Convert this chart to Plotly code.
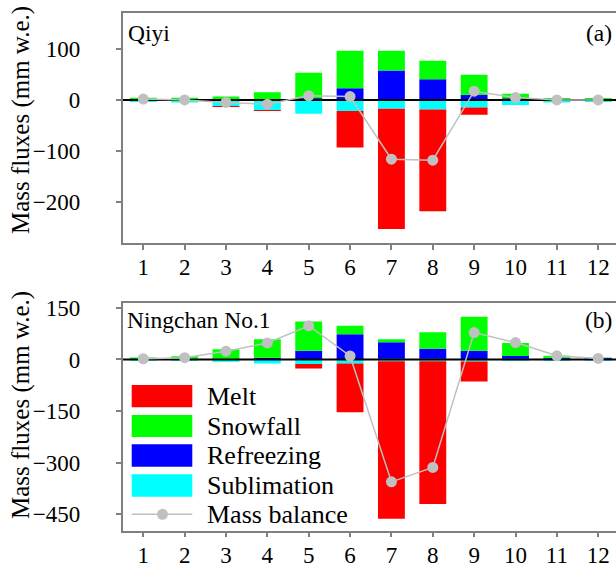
import plotly.graph_objects as go
from plotly.subplots import make_subplots

MONTHS = list(range(1, 13))
MONTH_LABELS = [str(m) for m in MONTHS]

# Panel (a) Qiyi
QIYI_MELT = [0, 0, -1, -1, 0, -71.5, -235, -199, -14, 0, 0, 0]
QIYI_SNOW = [3, 3, 6, 14, 50, 73, 38.5, 36, 39, 9.5, 3, 2.5]
QIYI_REFR = [1, 1, 0.5, 1, 3, 23, 57.5, 40.5, 10, 2.5, 0.5, 0.5]
QIYI_SUBL = [-4, -5, -12, -20.5, -27, -21.5, -17.5, -19, -15, -10, -5, -4]
QIYI_MB = [1.5, 0, -5, -8.5, 8, 6.5, -116, -118, 17, 4.5, 0, 0]

# Panel (b) Ningchan No.1
NC_MELT = [0, 0, 0, 0, -12.5, -142, -458, -415, -58, 0, 0, 0]
NC_SNOW = [4, 7, 29, 54, 85, 24.5, 9, 48, 99, 38, 6, 0]
NC_REFR = [2, 2, 1, 5, 25, 73.5, 50, 31, 25, 10, 5, 4]
NC_SUBL = [-2, -3, -7, -12, -13.5, -11.5, -5, -5, -6, -3, -2, -2]
NC_MB = [2, 5, 24, 48, 98, 10, -356, -314, 78, 49, 10.5, 3]

SERIES_NAMES = ["Melt", "Snowfall", "Refreezing", "Sublimation", "Mass balance"]
COLORS = {"Melt": "#ff0000", "Snowfall": "#00ff00", "Refreezing": "#0000ff",
          "Sublimation": "#00ffff", "Mass balance": "#c0c0c0"}

W, H = 616, 576
FONT = "Liberation Serif, Times New Roman, serif"


def px(x):
    return x / W


def py(y):
    return 1 - y / H


fig = make_subplots(rows=2, cols=1)

panels = [
    (1, QIYI_MELT, QIYI_SNOW, QIYI_REFR, QIYI_SUBL, QIYI_MB),
    (2, NC_MELT, NC_SNOW, NC_REFR, NC_SUBL, NC_MB),
]
for row, melt, snow, refr, subl, mb in panels:
    for name, vals in [("Refreezing", refr), ("Snowfall", snow),
                       ("Sublimation", subl), ("Melt", melt)]:
        fig.add_trace(go.Bar(x=MONTHS, y=vals, name=name, width=0.65,
                             marker=dict(color=COLORS[name], line=dict(width=0)),
                             showlegend=False), row=row, col=1)
    # zero reference line between bars and mass balance
    fig.add_trace(go.Scatter(x=[MONTHS[0] - 0.5, MONTHS[-1] + 0.5], y=[0, 0],
                             mode="lines", line=dict(color="black", width=2),
                             showlegend=False, hoverinfo="skip"), row=row, col=1)
    fig.add_trace(go.Scatter(x=MONTHS, y=mb, name="Mass balance", mode="lines+markers",
                             line=dict(color=COLORS["Mass balance"], width=1.5),
                             marker=dict(color=COLORS["Mass balance"], size=11),
                             showlegend=False), row=row, col=1)

fig.update_layout(
    barmode="relative",
    width=W, height=H,
    margin=dict(l=0, r=0, t=0, b=0),
    plot_bgcolor="white", paper_bgcolor="white",
    template="none",
    font=dict(family=FONT, size=22, color="black"),
    showlegend=False,
)

xdom = [px(122.6), 1]
axis_common = dict(showline=True, linecolor="#808080", linewidth=1.5,
                   ticks="outside", ticklen=5, tickwidth=1.5, tickcolor="#808080",
                   showgrid=False, zeroline=False, automargin=False,
                   tickfont=dict(family=FONT, size=23, color="black"))

fig.update_xaxes(**axis_common, mirror=True, domain=xdom, range=[0.5, 12.43],
                 tickmode="array", tickvals=MONTHS, ticktext=MONTH_LABELS,
                 ticklabelstandoff=-2)
fig.update_yaxes(**axis_common, mirror=False, ticklabelstandoff=31)

fig.update_yaxes(domain=[py(243), py(13)], range=[-280, 170],
                 tickvals=[100, 0, -100, -200], row=1, col=1)
fig.update_yaxes(domain=[py(530.7), py(302.7)], range=[-498, 165],
                 tickvals=[150, 0, -150, -300, -450], row=2, col=1)

ann = []
for yc in [120, 405]:
    ann.append(dict(x=px(21), y=py(yc), xref="paper", yref="paper",
                    text="Mass fluxes (mm w.e.)", textangle=-90, showarrow=False,
                    font=dict(family=FONT, size=25, color="black"),
                    xanchor="center", yanchor="middle"))
ann.append(dict(x=px(126), y=py(33), xref="paper", yref="paper", text="Qiyi",
                showarrow=False, xanchor="left", yanchor="middle",
                font=dict(family=FONT, size=23.5, color="black")))
ann.append(dict(x=px(614), y=py(33), xref="paper", yref="paper", text="(a)",
                showarrow=False, xanchor="right", yanchor="middle",
                font=dict(family=FONT, size=23.5, color="black")))
ann.append(dict(x=px(125), y=py(320), xref="paper", yref="paper", text="Ningchan No.1",
                showarrow=False, xanchor="left", yanchor="middle",
                font=dict(family=FONT, size=23.5, color="black")))
ann.append(dict(x=px(614), y=py(320), xref="paper", yref="paper", text="(b)",
                showarrow=False, xanchor="right", yanchor="middle",
                font=dict(family=FONT, size=23.5, color="black")))

# manual legend
shapes = []
box_rows = [("Melt", 385, 407.3), ("Snowfall", 415, 437),
            ("Refreezing", 444.3, 466.7), ("Sublimation", 474.3, 496.7)]
for name, y0, y1 in box_rows:
    shapes.append(dict(type="rect", xref="paper", yref="paper",
                       x0=px(131.7), x1=px(192.3), y0=py(y1), y1=py(y0),
                       fillcolor=COLORS[name], line=dict(width=0)))
    ann.append(dict(x=px(205), y=py((y0 + y1) / 2), xref="paper", yref="paper",
                    text=name, showarrow=False, xanchor="left", yanchor="middle",
                    font=dict(family=FONT, size=26, color="black")))
mb_y = 514.3
shapes.append(dict(type="line", xref="paper", yref="paper",
                   x0=px(131.7), x1=px(192.3), y0=py(mb_y), y1=py(mb_y),
                   line=dict(color=COLORS["Mass balance"], width=1.5)))
shapes.append(dict(type="circle", xref="paper", yref="paper",
                   x0=px(157), x1=px(168), y0=py(mb_y + 5.5), y1=py(mb_y - 5.5),
                   fillcolor=COLORS["Mass balance"], line=dict(width=0)))
ann.append(dict(x=px(205), y=py(mb_y), xref="paper", yref="paper",
                text="Mass balance", showarrow=False, xanchor="left", yanchor="middle",
                font=dict(family=FONT, size=26, color="black")))

fig.update_layout(annotations=ann, shapes=shapes)
fig.write_html("out.html")
